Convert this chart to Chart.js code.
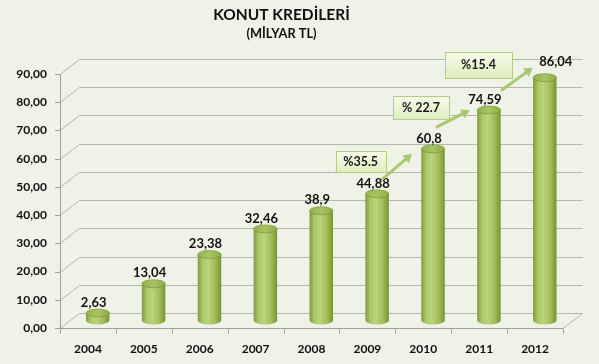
<!DOCTYPE html>
<html><head><meta charset="utf-8">
<script src="https://cdn.jsdelivr.net/npm/chart.js@4"></script>
<style>html,body{margin:0;padding:0;background:#eff2e6;overflow:hidden}#wrap{width:599px;height:364px}</style>
</head><body><div id="wrap"><canvas id="c" width="599" height="364"></canvas></div>
<script>
const years = ['2004','2005','2006','2007','2008','2009','2010','2011','2012'];
const credits = [2.63, 13.04, 23.38, 32.46, 38.9, 44.88, 60.8, 74.59, 86.04];
const valueLabels = ['2,63','13,04','23,38','32,46','38,9','44,88','60,8','74,59','86,04'];
const growthLabels = ['%35.5','% 22.7','%15.4'];
const growthStartIndex = [5, 6, 7];
const yMin = 0, yMax = 90, yStep = 10;

// layout / style (not data)
const DX = 19.5, DY = -15;
const FONT = 'Lato';
const calloutLayout = [
  {box:{dx:-41.5, dy:-43, w:50, h:21}, from:{dx:5.5, dy:-15}, to:{dx:-21, dy:5}},
  {box:{dx:-40, dy:-53, w:56, h:23}, from:{dx:4, dy:-22}, to:{dx:-19, dy:0}},
  {box:{dx:-44, dy:-58, w:67, h:26}, from:{dx:13, dy:-20}, to:{dx:-12, dy:-10}}
];
const labelShift = {8:{dx:15, dy:-5}};

function barGeom(chart, i){
  const el = chart.getDatasetMeta(0).data[i];
  return {cx: el.x + DX/2, top: el.y + DY/2, base: el.base + DY/2, w: el.width};
}

const frame3d = {
  id:'frame3d',
  beforeDraw(chart){
    const ctx = chart.ctx;
    ctx.save(); ctx.fillStyle = '#eff2e6'; ctx.fillRect(0,0,chart.width,chart.height); ctx.restore();
  },
  beforeDatasetsDraw(chart){
    const ctx = chart.ctx, a = chart.chartArea, y = chart.scales.y;
    ctx.save();
    ctx.lineWidth = 1;
    ctx.strokeStyle = '#b4b8ac';
    for (let v = yMin; v <= yMax; v += yStep){
      const py = Math.round(y.getPixelForValue(v)) + 0.5;
      ctx.beginPath();
      ctx.moveTo(a.left, py);
      ctx.lineTo(a.left + DX, py + DY);
      ctx.lineTo(a.right + DX, py + DY);
      ctx.stroke();
    }
    const p0 = Math.round(y.getPixelForValue(0)) + 0.5;
    ctx.beginPath(); ctx.moveTo(a.right, p0); ctx.lineTo(a.right + DX, p0 + DY); ctx.stroke();
    ctx.strokeStyle = '#9ea296';
    ctx.beginPath();
    ctx.moveTo(a.left + 0.5, y.getPixelForValue(yMax)); ctx.lineTo(a.left + 0.5, p0);
    ctx.lineTo(a.right, p0);
    ctx.stroke();
    for (let v = yMin; v <= yMax; v += yStep){
      const py = Math.round(y.getPixelForValue(v)) + 0.5;
      ctx.beginPath(); ctx.moveTo(a.left - 5, py); ctx.lineTo(a.left, py); ctx.stroke();
    }
    const n = years.length;
    for (let i = 0; i <= n; i++){
      const px = Math.round(a.left + (a.right - a.left) * i / n) + 0.5;
      ctx.beginPath(); ctx.moveTo(px, p0); ctx.lineTo(px, p0 + 5); ctx.stroke();
    }
    ctx.restore();
  },
  afterDatasetsDraw(chart){
    const ctx = chart.ctx;
    ctx.save();
    credits.forEach((v, i) => {
      const g = barGeom(chart, i);
      const l = g.cx - g.w/2, r = g.cx + g.w/2, eh = g.w * 0.17;
      const grad = ctx.createLinearGradient(l, 0, r, 0);
      grad.addColorStop(0, '#809d3c');
      grad.addColorStop(0.22, '#adc96a');
      grad.addColorStop(0.45, '#bbd47a');
      grad.addColorStop(0.75, '#a0bc58');
      grad.addColorStop(1, '#789235');
      ctx.fillStyle = grad;
      ctx.beginPath();
      ctx.moveTo(l, g.top);
      ctx.lineTo(l, g.base);
      ctx.ellipse(g.cx, g.base, g.w/2, eh, 0, Math.PI, 0, true);
      ctx.lineTo(r, g.top);
      ctx.closePath();
      ctx.fill();
      const tg = ctx.createLinearGradient(l, 0, r, 0);
      tg.addColorStop(0, '#94b24e');
      tg.addColorStop(0.5, '#a8c462');
      tg.addColorStop(1, '#8eab46');
      ctx.fillStyle = tg;
      ctx.beginPath(); ctx.ellipse(g.cx, g.top, g.w/2, eh, 0, 0, Math.PI*2); ctx.fill();
      ctx.strokeStyle = 'rgba(110,140,45,0.7)'; ctx.lineWidth = 0.8; ctx.stroke();
    });
    ctx.restore();
  },
  afterDraw(chart){
    const ctx = chart.ctx;
    ctx.save();
    ctx.font = 'bold 13px ' + FONT;
    ctx.fillStyle = '#111';
    ctx.textAlign = 'center'; ctx.textBaseline = 'middle';
    credits.forEach((v, i) => {
      const g = barGeom(chart, i);
      const s = labelShift[i] || {dx:0, dy:0};
      ctx.fillText(valueLabels[i], g.cx - 4 + s.dx, g.top - 10.5 + s.dy);
    });
    growthLabels.forEach((t, k) => {
      const i = growthStartIndex[k], L = calloutLayout[k];
      const a = barGeom(chart, i), b = barGeom(chart, i + 1);
      const x1 = a.cx + L.from.dx, y1 = a.top + L.from.dy;
      const x2 = b.cx + L.to.dx, y2 = b.top + L.to.dy;
      const ang = Math.atan2(y2 - y1, x2 - x1), hl = 8.5, hw = 5;
      const bx = x2 - hl*Math.cos(ang), by = y2 - hl*Math.sin(ang);
      ctx.strokeStyle = '#aac870'; ctx.fillStyle = '#aac870'; ctx.lineWidth = 3; ctx.lineCap = 'round';
      ctx.beginPath(); ctx.moveTo(x1, y1); ctx.lineTo(bx, by); ctx.stroke();
      ctx.beginPath(); ctx.moveTo(x2, y2);
      ctx.lineTo(bx + hw*Math.sin(ang), by - hw*Math.cos(ang));
      ctx.lineTo(bx - hw*Math.sin(ang), by + hw*Math.cos(ang));
      ctx.closePath(); ctx.fill();
      const bxl = a.cx + L.box.dx, byt = a.top + L.box.dy;
      const bg = ctx.createLinearGradient(0, byt, 0, byt + L.box.h);
      bg.addColorStop(0, '#f7fbec'); bg.addColorStop(1, '#dfeebf');
      ctx.fillStyle = bg;
      ctx.fillRect(bxl, byt, L.box.w, L.box.h);
      ctx.strokeStyle = '#b3cc82'; ctx.lineWidth = 1;
      ctx.strokeRect(Math.round(bxl) + 0.5, Math.round(byt) + 0.5, Math.round(L.box.w), Math.round(L.box.h));
      ctx.fillStyle = '#1a1a1a'; ctx.font = 'bold 12.5px ' + FONT;
      ctx.fillText(t, bxl + L.box.w/2, byt + L.box.h/2 + 0.5);
    });
    ctx.restore();
  }
};

new Chart(document.getElementById('c'), {
  type: 'bar',
  data: { labels: years, datasets: [{ data: credits, backgroundColor: 'rgba(0,0,0,0)', barPercentage: 0.42, categoryPercentage: 1 }] },
  options: {
    responsive: false, animation: false, devicePixelRatio: 1,
    layout: { padding: { left: 0, right: 36, top: 0, bottom: 0 } },
    plugins: {
      legend: { display: false }, tooltip: { enabled: false },
      title: { display: true, text: 'KONUT KREDİLERİ', color: '#111', font: { family: FONT, size: 15.5, weight: 'bold' }, padding: { top: 6, bottom: 0 } },
      subtitle: { display: true, text: '(MİLYAR TL)', color: '#111', font: { family: FONT, size: 12.8, weight: 'bold' }, padding: { top: 2, bottom: 32 } }
    },
    scales: {
      x: { offset: true, grid: { display: false, drawTicks: false }, border: { display: false },
           ticks: { color: '#111', font: { family: FONT, size: 12, weight: 'bold' }, padding: 14 },
           afterFit: s => { s.height = 36; } },
      y: { min: yMin, max: yMax, grid: { display: false, drawTicks: false }, border: { display: false },
           ticks: { stepSize: yStep, color: '#111', font: { family: FONT, size: 12, weight: 'bold' }, padding: 13,
                    callback: v => v.toFixed(2).replace('.', ',') },
           afterFit: s => { s.width = 60; } }
    }
  },
  plugins: [frame3d]
});
</script></body></html>
